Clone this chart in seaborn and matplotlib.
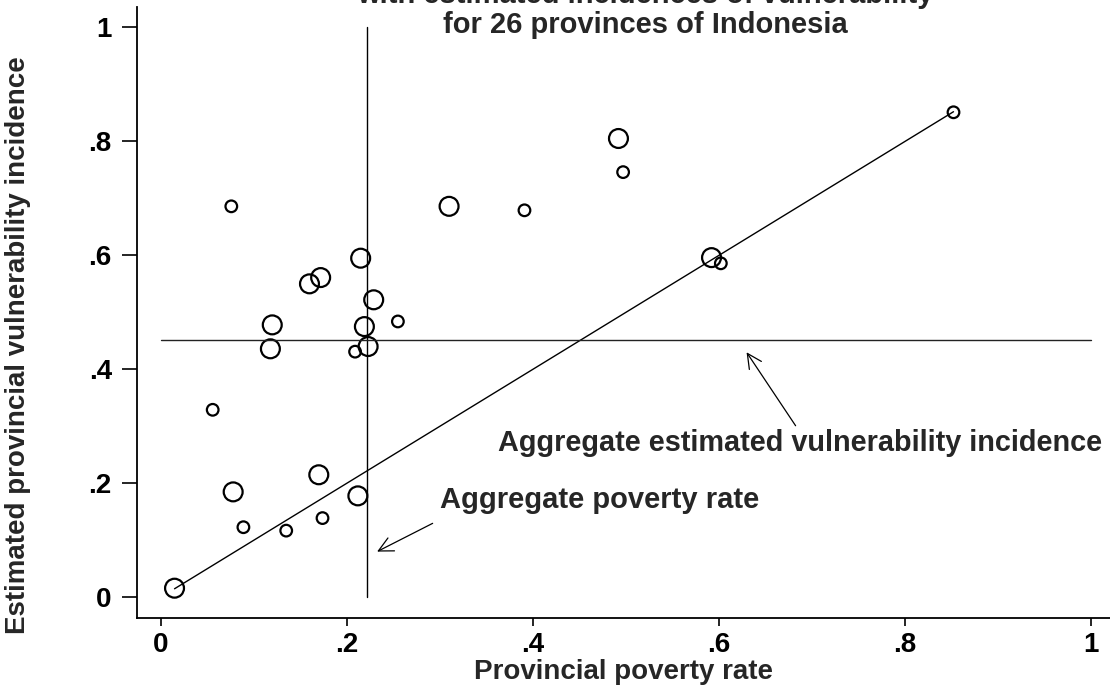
import numpy as np
import pandas as pd
import seaborn as sns
import matplotlib.pyplot as plt

# provincial poverty rate (x), estimated vulnerability incidence (y), marker weight class
poverty = [0.015, 0.056, 0.076, 0.078, 0.089, 0.118, 0.120, 0.135, 0.160, 0.170,
           0.172, 0.174, 0.209, 0.212, 0.215, 0.219, 0.223, 0.229, 0.255, 0.310,
           0.391, 0.492, 0.497, 0.592, 0.602, 0.852]
vulnerability = [0.016, 0.329, 0.686, 0.185, 0.123, 0.436, 0.478, 0.117, 0.550, 0.215,
                 0.561, 0.139, 0.431, 0.178, 0.595, 0.475, 0.440, 0.522, 0.484, 0.686,
                 0.679, 0.805, 0.746, 0.596, 0.586, 0.851]
weight = [2, 1, 1, 2, 1, 2, 2, 1, 2, 2,
          2, 1, 1, 2, 2, 2, 2, 2, 1, 2,
          1, 2, 1, 2, 1, 1]

agg_poverty = 0.222
agg_vulnerability = 0.452

df = pd.DataFrame({'poverty': poverty, 'vulnerability': vulnerability, 'weight': weight})

sns.set_style('ticks')
plt.rcParams['font.family'] = ['Liberation Sans', 'DejaVu Sans']
plt.rcParams['font.weight'] = 'bold'
fs = 20

fig = plt.figure(figsize=(11.1, 6.86), dpi=100)
ax = fig.add_axes([0.1232, 0.0987, 0.877, 0.891])

sns.scatterplot(data=df, x='poverty', y='vulnerability', size='weight', sizes=(70, 185),
                facecolor='none', edgecolor='black', linewidth=1.6, legend=False, ax=ax)

# 45 degree line between the extreme provinces
lo, hi = min(poverty), max(poverty)
ax.plot([lo, hi], [lo, hi], color='black', lw=1.0)
# aggregate lines
ax.plot([agg_poverty, agg_poverty], [0, 1], color='black', lw=1.0)
ax.plot([0, 1], [agg_vulnerability, agg_vulnerability], color='#222222', lw=1.0)

ax.annotate('', xy=(0.628, 0.434), xytext=(0.684, 0.297),
            arrowprops=dict(arrowstyle='->', color='black', lw=0.9, mutation_scale=26))
ax.text(0.687, 0.271, 'Aggregate estimated vulnerability incidence', ha='center', va='center',
        fontsize=20.8, fontweight='bold')
ax.annotate('', xy=(0.230, 0.078), xytext=(0.295, 0.132),
            arrowprops=dict(arrowstyle='->', color='black', lw=0.9, mutation_scale=26))
ax.text(0.472, 0.171, 'Aggregate poverty rate', ha='center', va='center',
        fontsize=21, fontweight='bold')

ax.set_xlim(-0.0256, 1.0204)
ax.set_ylim(-0.0368, 1.0356)
ticks = [0, 0.2, 0.4, 0.6, 0.8, 1]
tick_labels = ['0', '.2', '.4', '.6', '.8', '1']
ax.set_xticks(ticks)
ax.set_xticklabels(tick_labels)
ax.set_yticks(ticks)
ax.set_yticklabels(tick_labels)
ax.tick_params(axis='both', labelsize=fs, width=1.2, colors='black')
ax.tick_params(axis='y', length=11, pad=7)
ax.tick_params(axis='x', length=6, pad=4)
for s in ['top', 'right']:
    ax.spines[s].set_visible(False)
for s in ['left', 'bottom']:
    ax.spines[s].set_linewidth(1.3)
    ax.spines[s].set_color('black')

ax.set_xlabel('')
ax.set_ylabel('')
fig.text(623 / 1110, 1 - 672 / 686, 'Provincial poverty rate', ha='center', va='center',
         fontsize=fs, fontweight='bold')
fig.text(18 / 1110, 1 - 345 / 686, 'Estimated provincial vulnerability incidence', ha='center',
         va='center', rotation=90, fontsize=fs, fontweight='bold')

fig.text(0.581, 0.9955, 'with estimated incidences of vulnerability', ha='center', va='baseline',
         fontsize=21, fontweight='bold')
fig.text(0.581, 0.952, 'for 26 provinces of Indonesia', ha='center', va='baseline',
         fontsize=21, fontweight='bold')

fig.savefig('out.png', dpi=100)
